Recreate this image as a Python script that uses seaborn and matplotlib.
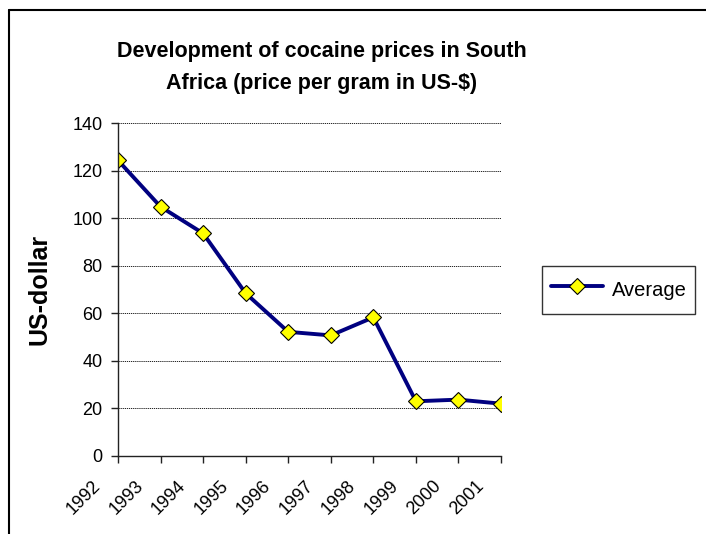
import matplotlib
matplotlib.use("Agg")
import matplotlib.pyplot as plt
import matplotlib.transforms as mtransforms
import seaborn as sns
import pandas as pd
from matplotlib.lines import Line2D

years = ["1992", "1993", "1994", "1995", "1996", "1997", "1998", "1999", "2000", "2001"]
average = [124.3, 104.8, 93.6, 68.4, 52.2, 50.7, 58.3, 23.0, 23.7, 22.0]
yticks = [0, 20, 40, 60, 80, 100, 120, 140]

title = "Development of cocaine prices in South\nAfrica (price per gram in US-$)"
ylabel = "US-dollar"
series_name = "Average"

sns.set_theme(style="white")
plt.rcParams['font.family'] = ['Liberation Sans', 'DejaVu Sans']
for k in ["text.color", "axes.labelcolor", "xtick.color", "ytick.color"]:
    plt.rcParams[k] = "black"

df = pd.DataFrame({"pos": range(len(years)), "value": average, "series": series_name})

fig = plt.figure(figsize=(7.06, 5.34), dpi=100)
fig.patch.set_facecolor("white")
ax = fig.add_axes([118/706, 1-456/534, (501-118)/706, (456-123)/534])

sns.lineplot(data=df, x="pos", y="value", hue="series", palette=["#000080"],
             marker="D", markersize=8.5, markerfacecolor="#FFFF00",
             markeredgecolor="black", markeredgewidth=0.8, linewidth=2.8, ax=ax)

ax.set_xlim(0, len(years) - 1)
ax.set_ylim(0, 140)
ax.set_yticks(yticks)
ax.set_xticks(range(len(years)))
ax.set_xticklabels(years, rotation=45, ha="right", va="center", rotation_mode="anchor")
ax.set_xlabel("")
ax.set_ylabel(ylabel, fontsize=18, fontweight="bold")
ax.yaxis.label.set_va("center")
ax.yaxis.set_label_coords(-0.204, 0.5)

ax.grid(axis="y", color="black", linestyle=(0, (1.5, 1)), linewidth=0.6)
ax.grid(axis="x", visible=False)
for s in ["top", "right"]:
    ax.spines[s].set_visible(False)
for s in ["left", "bottom"]:
    ax.spines[s].set_color("#222222")
    ax.spines[s].set_linewidth(1.0)
ax.tick_params(axis="both", which="major", length=5, width=1, color="#222222",
               direction="out", labelsize=13, pad=6, bottom=True, left=True)
ax.tick_params(axis="x", labelsize=13, pad=14.5)
shift = mtransforms.ScaledTranslation(-20/100, 0, fig.dpi_scale_trans)
for lab in ax.get_xticklabels():
    lab.set_transform(lab.get_transform() + shift)

leg = ax.legend(loc="center left", bbox_to_anchor=(542/706, 1-290/534),
                bbox_transform=fig.transFigure, fontsize=14.5, frameon=True,
                fancybox=False, handlelength=2.6, handleheight=1.9, borderpad=0.45,
                borderaxespad=0, handletextpad=0.4, title=None)
leg.get_frame().set_edgecolor("black")
leg.get_frame().set_linewidth(1.0)

fig.text(322/706, 1-67.5/534, title, ha="center", va="center", fontsize=15.5,
         fontweight="bold", linespacing=1.65)

# outer chart border
fig.add_artist(Line2D([9/706, 9/706], [0, 1-10/534], transform=fig.transFigure,
                      color="black", linewidth=1.5))
fig.add_artist(Line2D([9/706, 1], [1-10/534, 1-10/534], transform=fig.transFigure,
                      color="black", linewidth=1.5))

fig.savefig("out.png", dpi=100)
